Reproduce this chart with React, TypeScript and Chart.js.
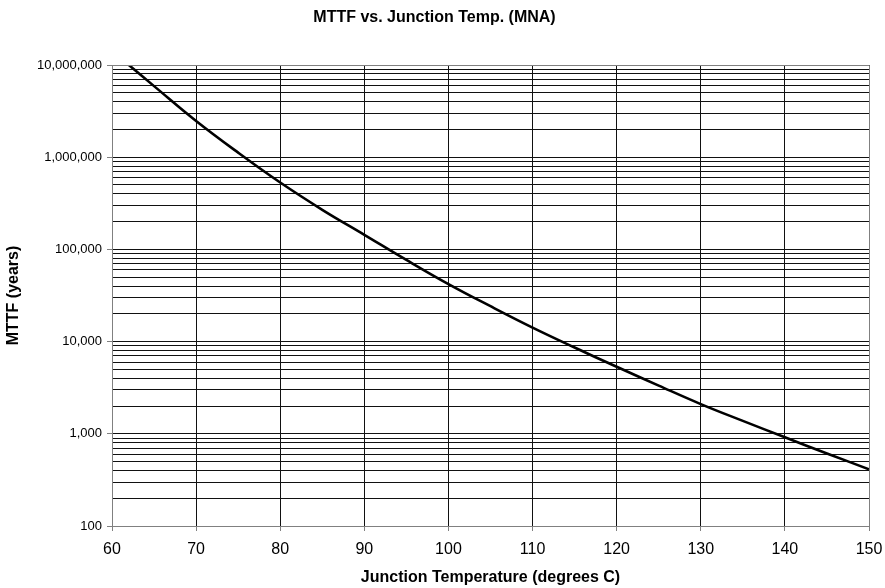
import React, { useEffect, useRef } from "react";
import { Chart, registerables } from "chart.js";

Chart.register(...registerables);

// Junction temperature (°C)
const temps = [62, 65, 70, 75, 80, 85, 90, 95, 100, 105, 110, 115, 120, 125, 130, 135, 140, 145, 150];
// MTTF (years)
const mttf = [10000000, 5900000, 2470000, 1120000, 531000, 269000, 144000, 76900, 42100, 24200, 14200, 8630, 5330, 3330, 2100, 1380, 916, 612, 412];

const xMin = 60;
const xMax = 150;
const xStep = 10;
const yDecades = [100, 1000, 10000, 100000, 1000000, 10000000];
const yMultipliers = [1, 2, 3, 4, 5, 6, 7, 8, 9];

const titleText = "MTTF vs. Junction Temp. (MNA)";
const xTitle = "Junction Temperature (degrees C)";
const yTitle = "MTTF (years)";

const FONT = "'Liberation Sans', Arial, Helvetica, sans-serif";

function isDecade(v: number) {
  return yDecades.includes(Math.round(v));
}

function fmt(v: number) {
  return Math.round(v).toString().replace(/\B(?=(\d{3})+(?!\d))/g, ",");
}

const framePlugin = {
  id: "frame",
  afterDraw(chart: any) {
    const { ctx, chartArea } = chart;
    const l = Math.round(chartArea.left) + 0.5;
    const r = Math.round(chartArea.right) + 0.5;
    const t = Math.round(chartArea.top) + 0.5;
    const b = Math.round(chartArea.bottom) + 0.5;
    ctx.save();
    ctx.strokeStyle = "#808080";
    ctx.lineWidth = 1;
    ctx.beginPath();
    ctx.moveTo(l, t);
    ctx.lineTo(r, t);
    ctx.lineTo(r, b);
    ctx.lineTo(l, b);
    ctx.closePath();
    ctx.stroke();
    ctx.restore();
  },
};

export default function App() {
  const ref = useRef<HTMLCanvasElement | null>(null);

  useEffect(() => {
    if (!ref.current) return;
    const yTicks: number[] = [];
    for (let i = 0; i < yDecades.length; i++) {
      const d = yDecades[i];
      if (i === yDecades.length - 1) {
        yTicks.push(d);
      } else {
        for (const m of yMultipliers) yTicks.push(d * m);
      }
    }
    const data = temps.map((t, i) => ({ x: t, y: mttf[i] }));

    const chart = new Chart(ref.current, {
      type: "line",
      data: {
        datasets: [
          {
            data,
            borderColor: "#000",
            borderWidth: 2.6,
            pointRadius: 0,
            fill: false,
            tension: 0.4,
          },
        ],
      },
      options: {
        animation: false,
        responsive: false,
        devicePixelRatio: 1,
        layout: { padding: { left: 0, right: 16, top: 0, bottom: 0 } },
        plugins: {
          legend: { display: false },
          tooltip: { enabled: false },
          title: {
            display: true,
            text: titleText,
            color: "#000",
            font: { family: FONT, size: 16, weight: "bold" },
            padding: { top: 8, bottom: 37.8 },
          },
        },
        scales: {
          x: {
            type: "linear",
            min: xMin,
            max: xMax,
            afterFit: (s: any) => {
              s.height = 62;
              s.paddingLeft = 0;
              s.paddingRight = 0;
            },
            ticks: {
              stepSize: xStep,
              color: "#000",
              font: { family: FONT, size: 16 },
              padding: 9,
              maxRotation: 0,
            },
            grid: {
              color: "#111",
              lineWidth: 1,
              tickLength: 5,
              tickColor: "#808080",
            },
            border: { color: "#808080" },
            title: {
              display: true,
              text: xTitle,
              color: "#000",
              font: { family: FONT, size: 16, weight: "bold" },
              padding: { top: 0, bottom: 1 },
            },
          },
          y: {
            type: "logarithmic",
            min: 100,
            max: 10000000,
            afterFit: (s: any) => {
              s.width = 112;
              s.paddingTop = 0;
              s.paddingBottom = 0;
            },
            afterBuildTicks: (s: any) => {
              s.ticks = yTicks.map((v) => ({ value: v, major: isDecade(v) }));
            },
            ticks: {
              autoSkip: false,
              color: "#000",
              font: { family: FONT, size: 13 },
              padding: 5,
              callback: (v: any) => (isDecade(Number(v)) ? fmt(Number(v)) : ""),
            },
            grid: {
              color: "#111",
              lineWidth: 1,
              tickLength: 5,
              tickColor: (ctx: any) =>
                ctx.tick && isDecade(ctx.tick.value) ? "#808080" : "rgba(0,0,0,0)",
            },
            border: { color: "#808080" },
            title: {
              display: true,
              text: yTitle,
              color: "#000",
              font: { family: FONT, size: 16, weight: "bold" },
              padding: { top: 4, bottom: 0 },
            },
          },
        },
      },
      plugins: [framePlugin],
    } as any);
    return () => chart.destroy();
  }, []);

  return (
    <div style={{ position: "absolute", left: 0, top: 0, width: 885, height: 588, background: "#fff" }}>
      <canvas ref={ref} width={885} height={588} style={{ display: "block" }} />
    </div>
  );
}
